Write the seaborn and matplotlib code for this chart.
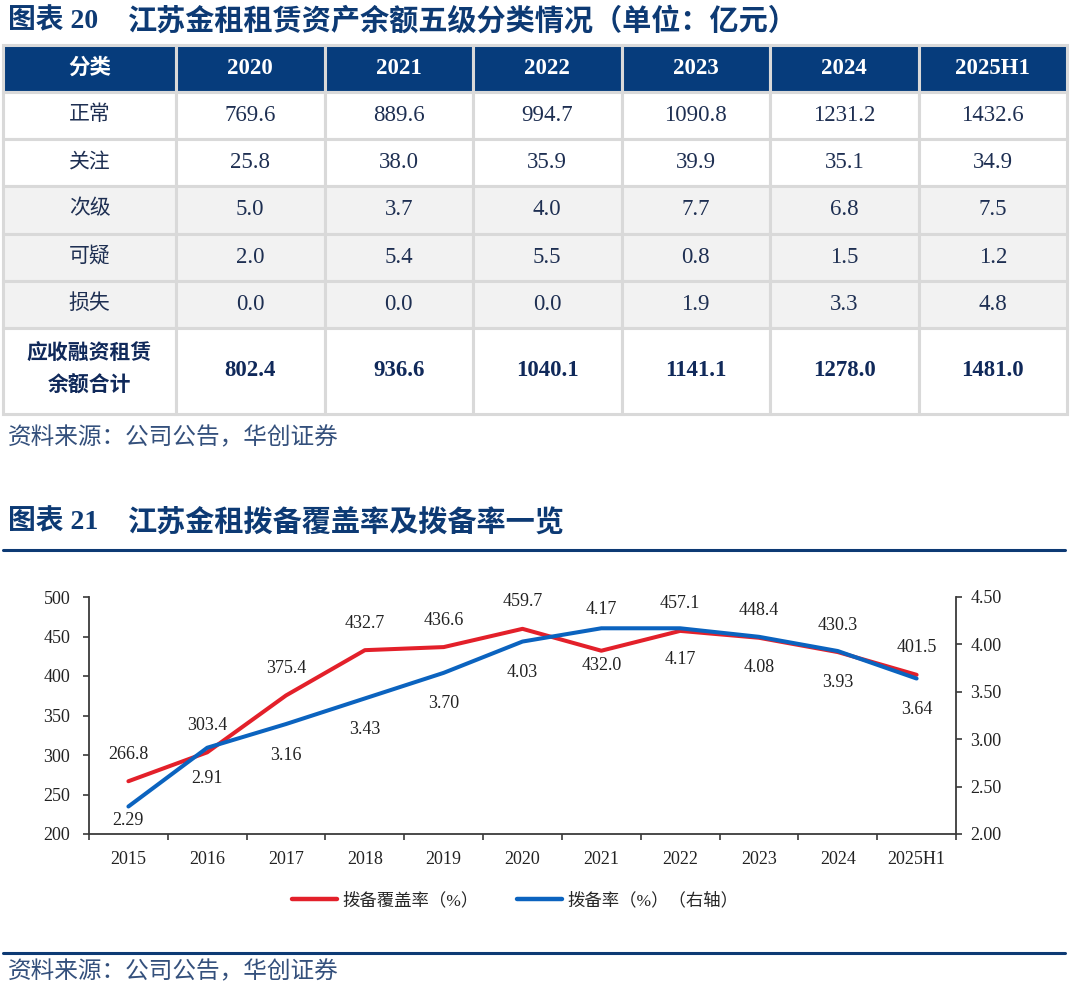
import numpy as np
import matplotlib
matplotlib.use('Agg')
import matplotlib.pyplot as plt
from matplotlib.patches import Rectangle
from matplotlib.lines import Line2D
import seaborn as sns

# table data (亿元)
grades = ['正常', '关注', '次级', '可疑', '损失']
years = ['2020', '2021', '2022', '2023', '2024', '2025H1']
normal = [769.6, 889.6, 994.7, 1090.8, 1231.2, 1432.6]
attention = [25.8, 38.0, 35.9, 39.9, 35.1, 34.9]
substandard = [5.0, 3.7, 4.0, 7.7, 6.8, 7.5]
doubtful = [2.0, 5.4, 5.5, 0.8, 1.5, 1.2]
loss = [0.0, 0.0, 0.0, 1.9, 3.3, 4.8]
total = [802.4, 936.6, 1040.1, 1141.1, 1278.0, 1481.0]
total_label = '应收融资租赁\n余额合计'

# line chart data
periods = ['2015', '2016', '2017', '2018', '2019', '2020', '2021', '2022', '2023', '2024', '2025H1']
coverage = [266.8, 303.4, 375.4, 432.7, 436.6, 459.7, 432.0, 457.1, 448.4, 430.3, 401.5]
provision = [2.29, 2.91, 3.16, 3.43, 3.70, 4.03, 4.17, 4.17, 4.08, 3.93, 3.64]

sns.set_theme(style='ticks')
plt.rcParams['font.family'] = ['Liberation Serif', 'Noto Sans CJK SC']
plt.rcParams['axes.unicode_minus'] = False

NAVY = '#0d3a74'
HEADER = '#063c7c'
BORDER = '#d9d9d9'
SHADE = '#f2f2f2'
TXT = '#1e2f52'
RED = '#e3202a'
BLUE = '#0b63bf'
SRC = '#34507c'

W, H = 1080, 994
fig = plt.figure(figsize=(W / 100, H / 100), dpi=100)


def px(x, y):
    return x / W, 1 - y / H


# ---- figure 20: table ----
fig.text(*px(8, 21), '图表 20', fontsize=20, fontweight='bold', color=NAVY, ha='left', va='center')
fig.text(*px(128, 21), '江苏金租租赁资产余额五级分类情况（单位：亿元）', fontsize=21,
         fontweight='bold', color=NAVY, ha='left', va='center')

ax_t = fig.add_axes([3 / W, 1 - 414 / H, 1064 / W, 369 / H])
ax_t.set_axis_off()
col_w = [1.165] + [1.0] * len(years)
row_h = [1.0] * 6 + [1.83]
x_edges = np.concatenate([[0], np.cumsum(col_w)])
y_edges = np.concatenate([[0], np.cumsum(row_h)])
ax_t.set_xlim(0, x_edges[-1])
ax_t.set_ylim(y_edges[-1], 0)

rows = [['分类'] + years]
for g, vals in zip(grades, [normal, attention, substandard, doubtful, loss]):
    rows.append([g] + [f'{v:.1f}' for v in vals])
rows.append([total_label] + [f'{v:.1f}' for v in total])

for r, row in enumerate(rows):
    if r == 0:
        fill = HEADER
    elif r in (3, 4, 5):
        fill = SHADE
    else:
        fill = 'white'
    for c, cell in enumerate(row):
        ax_t.add_patch(Rectangle((x_edges[c], y_edges[r]), col_w[c], row_h[r],
                                 facecolor=fill, edgecolor=BORDER, lw=2.2, clip_on=False))
        cx = x_edges[c] + col_w[c] / 2
        cy = y_edges[r] + row_h[r] / 2
        if r == 0:
            kw = dict(color='white', fontweight='bold', fontsize=16.5 if c else 15.5)
        elif r == len(rows) - 1:
            kw = dict(color='#10295a', fontweight='bold', fontsize=16.5 if c else 15, linespacing=1.75)
        else:
            kw = dict(color=TXT, fontsize=16.5 if c else 15)
        ax_t.text(cx, cy, cell, ha='center', va='center', **kw)

fig.text(*px(8, 438), '资料来源：公司公告，华创证券', fontsize=17, style='italic', color=SRC,
         ha='left', va='center')

# ---- figure 21: line chart ----
fig.text(*px(8, 522), '图表 21', fontsize=20, fontweight='bold', color=NAVY, ha='left', va='center')
fig.text(*px(128, 522), '江苏金租拨备覆盖率及拨备率一览', fontsize=21,
         fontweight='bold', color=NAVY, ha='left', va='center')
fig.add_artist(Line2D([3 / W, 1065 / W], [1 - 550 / H] * 2, color=NAVY, lw=2.2,
                      transform=fig.transFigure))
fig.add_artist(Line2D([3 / W, 1065 / W], [1 - 953 / H] * 2, color=NAVY, lw=2.2,
                      transform=fig.transFigure))

ax = fig.add_axes([89 / W, 1 - 834 / H, 867 / W, 237 / H])
ax2 = ax.twinx()
x = np.arange(len(periods))
sns.lineplot(x=x, y=coverage, ax=ax, color=RED, lw=2.9, legend=False)
sns.lineplot(x=x, y=provision, ax=ax2, color=BLUE, lw=2.9, legend=False)

ax.set_xlim(-0.5, len(periods) - 0.5)
ax.set_ylim(200, 500)
ax2.set_ylim(2.0, 4.5)
ax.set_yticks(np.arange(200, 501, 50))
ax2.set_yticks(np.arange(2.0, 4.51, 0.5))
ax2.set_yticklabels([f'{v:.2f}' for v in np.arange(2.0, 4.51, 0.5)])
ax.set_xticks(x)
ax.set_xticklabels(periods)
ax.set_xticks(np.arange(-0.5, len(periods), 1), minor=True)
ax.set_xlabel('')
ax.set_ylabel('')
ax2.set_ylabel('')

AX_C = '#3a3a3a'
for a in (ax, ax2):
    for s in a.spines.values():
        s.set_visible(False)
        s.set_color(AX_C)
        s.set_linewidth(1.3)
ax.spines['left'].set_visible(True)
ax.spines['bottom'].set_visible(True)
ax2.spines['right'].set_visible(True)

ax.tick_params(axis='x', which='major', length=0, pad=12, labelsize=13, labelcolor='#222222')
ax.tick_params(axis='x', which='minor', length=4.5, width=1.2, color=AX_C, direction='out')
ax.tick_params(axis='y', length=4.5, width=1.2, color=AX_C, pad=9, labelsize=13, labelcolor='#222222')
ax2.tick_params(axis='y', length=4.5, width=1.2, color=AX_C, pad=6, labelsize=13, labelcolor='#222222')

# data labels (pixel offsets)
cov_off = [27] * len(periods)
cov_off[6] = -15
prov_off = [-31] * len(periods)
prov_off[0] = -14
prov_off[6] = 19
for xi, v, dy in zip(x, coverage, cov_off):
    ax.annotate(f'{v:.1f}', (xi, v), xytext=(0, dy), textcoords='offset pixels',
                ha='center', va='center', fontsize=13, color='#222222')
for xi, v, dy in zip(x, provision, prov_off):
    ax2.annotate(f'{v:.2f}', (xi, v), xytext=(0, dy), textcoords='offset pixels',
                 ha='center', va='center', fontsize=13, color='#222222')

handles = [Line2D([], [], color=RED, lw=3.2), Line2D([], [], color=BLUE, lw=3.2)]
fig.legend(handles, ['拨备覆盖率（%）', '拨备率（%）（右轴）'], loc='center',
           bbox_to_anchor=px(515, 901), ncol=2, frameon=False, fontsize=12.5,
           handlelength=2.6, handletextpad=0.3, columnspacing=2.2)

fig.text(*px(8, 972), '资料来源：公司公告，华创证券', fontsize=17, style='italic', color=SRC,
         ha='left', va='center')

fig.savefig('out.png', dpi=100)
